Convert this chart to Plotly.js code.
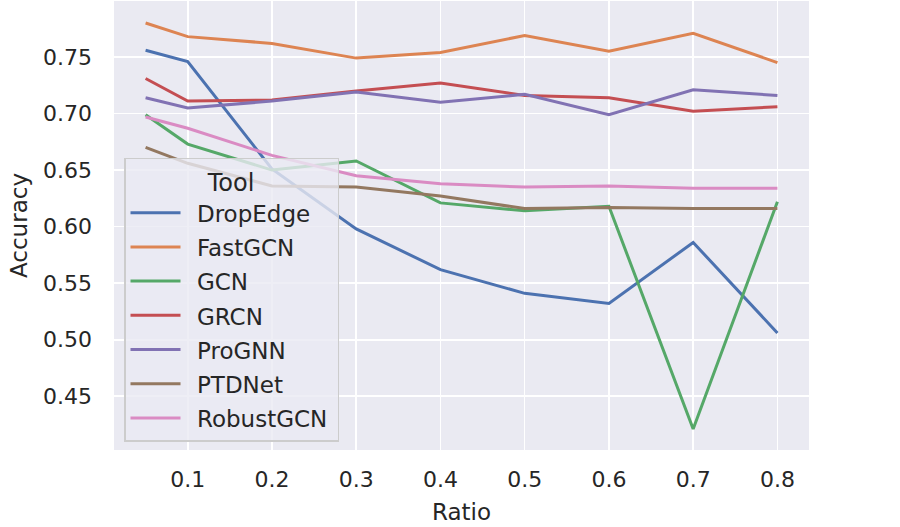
<!DOCTYPE html>
<html>
<head>
<meta charset="utf-8">
<script src="https://cdn.plot.ly/plotly-3.0.1.min.js"></script>
<style>html,body{margin:0;padding:0;background:#fff;}#chart{width:900px;height:527px;}</style>
</head>
<body>
<div id="chart"></div>
<script>
const ratios = [0.05, 0.1, 0.2, 0.3, 0.4, 0.5, 0.6, 0.7, 0.8];
const tools = ["DropEdge", "FastGCN", "GCN", "GRCN", "ProGNN", "PTDNet", "RobustGCN"];
const dropEdge  = [0.756, 0.746, 0.651, 0.598, 0.562, 0.541, 0.532, 0.586, 0.506];
const fastGCN   = [0.780, 0.768, 0.762, 0.749, 0.754, 0.769, 0.755, 0.771, 0.745];
const gcn       = [0.699, 0.673, 0.650, 0.658, 0.621, 0.614, 0.618, 0.421, 0.622];
const grcn      = [0.731, 0.711, 0.712, 0.720, 0.727, 0.716, 0.714, 0.702, 0.706];
const proGNN    = [0.714, 0.705, 0.711, 0.719, 0.710, 0.717, 0.699, 0.721, 0.716];
const ptdNet    = [0.670, 0.656, 0.636, 0.635, 0.627, 0.616, 0.617, 0.616, 0.616];
const robustGCN = [0.697, 0.687, 0.663, 0.645, 0.638, 0.635, 0.636, 0.634, 0.634];
const yTicks = [0.45, 0.50, 0.55, 0.60, 0.65, 0.70, 0.75];
const xTicks = [0.1, 0.2, 0.3, 0.4, 0.5, 0.6, 0.7, 0.8];

const series = [dropEdge, fastGCN, gcn, grcn, proGNN, ptdNet, robustGCN];
const colors = ["#4C72B0", "#DD8452", "#55A868", "#C44E52", "#8172B3", "#937860", "#DA8BC3"];

const traces = tools.map((t, i) => ({
  x: ratios,
  y: series[i],
  type: "scatter",
  mode: "lines",
  name: '<span style="font-size:18px">\u00a0\u00a0</span><span style="font-size:23px">' + t + '</span><span style="font-size:14px">\u00a0</span>',
  line: {color: colors[i], width: 3}
}));

const layout = {
  width: 900, height: 527,
  margin: {l: 114, r: 91, t: 1, b: 77},
  paper_bgcolor: "#ffffff",
  plot_bgcolor: "#EAEAF2",
  font: {family: "DejaVu Sans", color: "#262626", size: 22},
  showlegend: true,
  legend: {
    x: 0.0144, y: 0.018, xanchor: "left", yanchor: "bottom",
    bgcolor: "rgba(234,234,242,0.8)",
    bordercolor: "#CCCCCC", borderwidth: 1.5,
    font: {family: "DejaVu Sans", size: 24, color: "#262626"},
    title: {text: "Tool", side: "top center", font: {size: 24}},
    itemwidth: 50
  },
  xaxis: {
    range: [0.0125, 0.8375],
    tickvals: xTicks,
    ticktext: xTicks.map(v => v.toFixed(1)),
    showgrid: true, gridcolor: "#ffffff", gridwidth: 1.6,
    zeroline: false, showline: false, ticks: "",
    ticklabelstandoff: 14,
    tickfont: {size: 22},
    title: {text: "Ratio", font: {size: 23}, standoff: 12},
    automargin: false
  },
  yaxis: {
    range: [0.4025, 0.7995],
    tickvals: yTicks,
    ticktext: yTicks.map(v => v.toFixed(2)),
    showgrid: true, gridcolor: "#ffffff", gridwidth: 1.6,
    zeroline: false, showline: false, ticks: "",
    ticklabelstandoff: 21,
    tickfont: {size: 22},
    title: {text: "Accuracy", font: {size: 23}, standoff: 8},
    automargin: false
  }
};

Plotly.newPlot("chart", traces, layout, {displayModeBar: false, staticPlot: true});
</script>
</body>
</html>
